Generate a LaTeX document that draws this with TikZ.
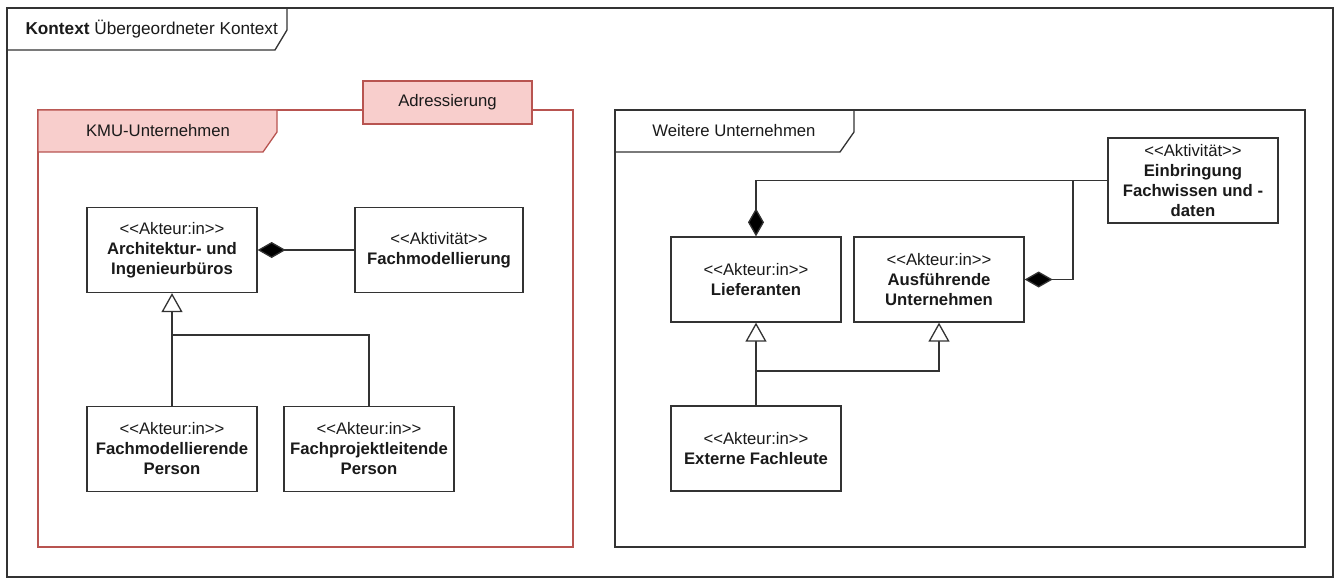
\documentclass[tikz,border=0pt]{standalone}
\usepackage{fontspec}
\setmainfont{Liberation Sans}
\usetikzlibrary{arrows.meta}
\definecolor{redline}{HTML}{B85450}
\definecolor{redfill}{HTML}{F8CECC}
\definecolor{linec}{HTML}{333333}
\definecolor{textc}{HTML}{1A1A1A}
\newcommand{\stereo}[1]{<\kern0pt<#1>\kern0pt>}
\begin{document}
\begin{tikzpicture}[x=1pt,y=-1pt,
  every node/.style={font=\fontsize{16.7}{20}\selectfont, text=textc},
  umlbox/.style={draw=linec, line width=1.3pt, fill=white, align=center, inner sep=0pt, minimum width=170pt, minimum height=85pt},
  conn/.style={draw=linec, line width=1.3pt},
  comp/.style={conn, -{Diamond[length=28pt,width=16pt,fill=black]}},
  gen/.style={conn, -{Triangle[open,length=19pt,width=21pt,fill=white]}},
  framec/.style={draw=linec, line width=1.3pt},
  redframe/.style={draw=redline, line width=1.3pt},
]
\useasboundingbox (0,0) rectangle (1339,583);
\fill[white] (0,0) rectangle (1339,583);

% outer frame
\draw[framec] (7,8) rectangle (1333,577);
\draw[framec] (7,50) -- (275,50) -- (287,30) -- (287,8);
\node[anchor=west, font=\fontsize{17.2}{20}\selectfont] (title) at (22,29) {\textbf{Kontext} Übergeordneter Kontext};

% KMU frame
\draw[redframe] (38,110) rectangle (573,547);
\filldraw[redframe, fill=redfill] (38,110) -- (277,110) -- (277,132) -- (263,152) -- (38,152) -- cycle;
\node (kmu) at (158,131) {KMU-Unternehmen};
\node[draw=redline, line width=1.3pt, fill=redfill, minimum width=169pt, minimum height=43pt, inner sep=0pt] (adr) at (447.5,102.5) {Adressierung};

% Weitere frame
\draw[framec] (615,110) rectangle (1305,547);
\draw[framec] (615,152) -- (840,152) -- (854,132) -- (854,110);
\node (weit) at (734,131) {Weitere Unternehmen};

% left boxes
\node[umlbox] (arch) at (172,250) {\stereo{Akteur:in}\\\textbf{Architektur- und}\\\textbf{Ingenieurbüros}};
\node[umlbox, minimum width=168pt] (fachmod) at (439,250) {\stereo{Aktivität}\\\textbf{Fachmodellierung}};
\node[umlbox] (fmp) at (172,449) {\stereo{Akteur:in}\\\textbf{Fachmodellierende}\\\textbf{Person}};
\node[umlbox] (fpp) at (369,449) {\stereo{Akteur:in}\\\textbf{Fachprojektleitende}\\\textbf{Person}};

% right boxes
\node[umlbox] (lief) at (756,279.5) {\stereo{Akteur:in}\\\textbf{Lieferanten}};
\node[umlbox] (aus) at (939,279.5) {\stereo{Akteur:in}\\\textbf{Ausführende}\\\textbf{Unternehmen}};
\node[umlbox] (ext) at (756,448.5) {\stereo{Akteur:in}\\\textbf{Externe Fachleute}};
\node[umlbox] (einb) at (1193,180.5) {\stereo{Aktivität}\\\textbf{Einbringung}\\\textbf{Fachwissen und -}\\\textbf{daten}};

% junctions
\coordinate (j1) at (172,335);
\coordinate (j2) at (756,371);
\coordinate (j3) at (1073,180.5);

% connectors left
\draw[comp] (fachmod.west) -- (arch.east);
\draw[gen] (fmp.north) -- (arch.south);
\draw[conn] (fpp.north) |- (j1);

% connectors right
\draw[comp] (einb.west) -| (lief.north);
\draw[comp] (j3) |- (aus.east);
\draw[gen] (ext.north) -- (lief.south);
\draw[gen] (j2) -| (aus.south);
\end{tikzpicture}
\end{document}
